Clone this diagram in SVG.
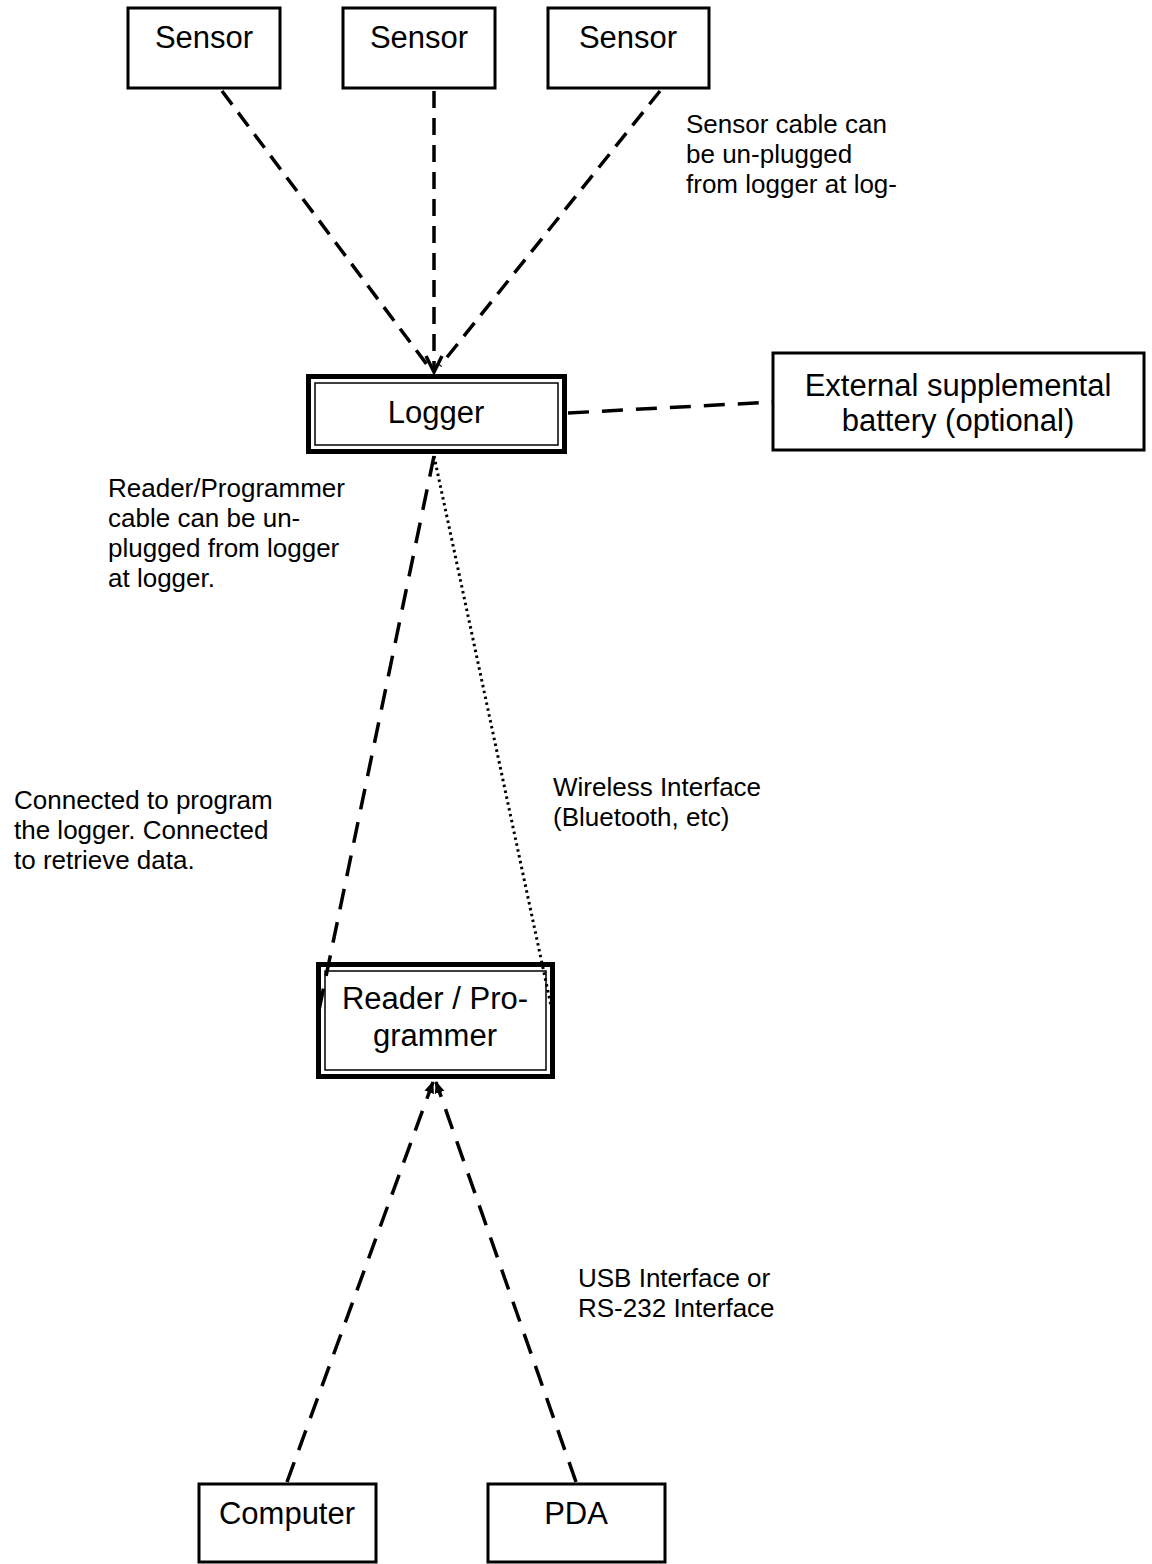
<svg xmlns="http://www.w3.org/2000/svg" width="1152" height="1564" viewBox="0 0 1152 1564">
<style>
.box{fill:#fff;stroke:#000;stroke-width:3}
.outer{fill:#fff;stroke:#000;stroke-width:5}
.inner{fill:none;stroke:#000;stroke-width:1.5}
.big{font-family:"Liberation Sans",Arial,sans-serif;font-size:31px;text-anchor:middle;fill:#000}
.small{font-family:"Liberation Sans",Arial,sans-serif;font-size:26px;fill:#000}
.dash{fill:none;stroke:#000;stroke-width:3.5;stroke-dasharray:17 10}
.dashl{fill:none;stroke:#000;stroke-width:3.5;stroke-dasharray:21 13}
.dot{fill:none;stroke:#000;stroke-width:3;stroke-dasharray:2.5 3.5}
</style>
<defs>
<marker id="open" viewBox="0 0 20 20" refX="18" refY="10" markerWidth="20" markerHeight="20" markerUnits="userSpaceOnUse" orient="auto">
<path d="M2,2 L18,10 L2,18" fill="none" stroke="#000" stroke-width="3.5"/>
</marker>
<marker id="fill" viewBox="0 0 12 12" refX="11" refY="6" markerWidth="12" markerHeight="12" markerUnits="userSpaceOnUse" orient="auto">
<path d="M0,1 L12,6 L0,11 Z" fill="#000"/>
</marker>
</defs>
<g id="sensor1"><rect class="box" x="128" y="8" width="152" height="80"/><text class="big" x="204" y="48">Sensor</text></g>
<g id="sensor2"><rect class="box" x="343" y="8" width="152" height="80"/><text class="big" x="419" y="48">Sensor</text></g>
<g id="sensor3"><rect class="box" x="548" y="8" width="161" height="80"/><text class="big" x="628" y="48">Sensor</text></g>
<g id="logger"><rect class="outer" x="308.5" y="376.5" width="256" height="75"/><rect class="inner" x="315" y="383" width="243" height="62"/><text class="big" x="436" y="423">Logger</text></g>
<g id="battery"><rect class="box" x="773" y="353" width="371" height="97"/><text class="big" x="958" y="396">External supplemental</text><text class="big" x="958" y="431">battery (optional)</text></g>
<g id="reader"><rect class="outer" x="318.5" y="964.5" width="234" height="112"/><rect class="inner" x="325" y="971" width="221" height="99"/><text class="big" x="435" y="1009">Reader / Pro-</text><text class="big" x="435" y="1046">grammer</text></g>
<g id="computer"><rect class="box" x="199" y="1484" width="177" height="78"/><text class="big" x="287" y="1524">Computer</text></g>
<g id="pda"><rect class="box" x="488" y="1484" width="177" height="78"/><text class="big" x="576" y="1524">PDA</text></g>
<g id="connectors">
<line class="dash" x1="222" y1="91" x2="428" y2="366"/>
<line class="dash" x1="434" y1="91" x2="434" y2="372" marker-end="url(#open)"/>
<line class="dash" x1="660" y1="91" x2="440" y2="366"/>
<line class="dashl" x1="568" y1="413" x2="773" y2="402"/>
<line class="dashl" x1="434" y1="456" x2="318" y2="1015"/>
<line class="dot" x1="434" y1="456" x2="553" y2="1015"/>
<line class="dashl" x1="287" y1="1482" x2="433" y2="1082" marker-end="url(#fill)"/>
<line class="dashl" x1="576" y1="1482" x2="436" y2="1082" marker-end="url(#fill)"/>
</g>
<g id="labels">
<text class="small" x="686" y="133">Sensor cable can</text>
<text class="small" x="686" y="163">be un-plugged</text>
<text class="small" x="686" y="193">from logger at log-</text>
<text class="small" x="108" y="497">Reader/Programmer</text>
<text class="small" x="108" y="527">cable can be un-</text>
<text class="small" x="108" y="557">plugged from logger</text>
<text class="small" x="108" y="587">at logger.</text>
<text class="small" x="14" y="809">Connected to program</text>
<text class="small" x="14" y="839">the logger. Connected</text>
<text class="small" x="14" y="869">to retrieve data.</text>
<text class="small" x="553" y="796">Wireless Interface</text>
<text class="small" x="553" y="826">(Bluetooth, etc)</text>
<text class="small" x="578" y="1287">USB Interface or</text>
<text class="small" x="578" y="1317">RS-232 Interface</text>
</g>
</svg>
